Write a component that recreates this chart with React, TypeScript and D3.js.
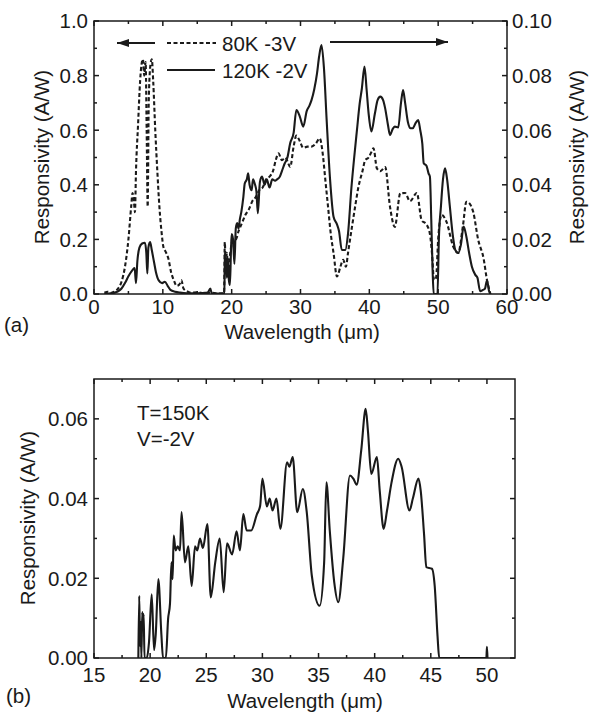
import * as d3 from 'd3';

const FONT = 'Arial, "Liberation Sans", Helvetica, sans-serif';

// (a) 80K -3V, left axis (A/W)
const resp80K: [number, number][] = [
  [1.5, 0.005], [2.0, 0.008], [2.5, 0.004], [3.0, 0.01], [3.5, 0.02], [4.0, 0.045], [4.5, 0.1], [5.0, 0.2],
  [5.4, 0.32], [5.6, 0.37], [5.8, 0.34], [5.95, 0.3], [6.1, 0.45], [6.4, 0.62], [6.7, 0.78], [6.9, 0.84],
  [7.1, 0.86], [7.3, 0.8], [7.5, 0.85], [7.65, 0.6], [7.8, 0.32], [7.95, 0.7], [8.2, 0.84], [8.4, 0.86],
  [8.6, 0.78], [8.9, 0.6], [9.2, 0.45], [9.5, 0.32], [9.8, 0.23], [10.1, 0.17], [10.4, 0.155], [10.8, 0.13],
  [11.2, 0.08], [11.6, 0.05], [12.0, 0.03], [12.4, 0.035], [12.7, 0.05], [13.0, 0.02], [13.5, 0.01], [14.0, 0.005],
  [15.0, 0.006], [16.0, 0.003], [17.0, 0.005], [18.0, 0.002], [18.9, 0.003], [19.0, 0.19], [19.15, 0.1], [19.3, 0.15],
  [19.5, 0.08], [19.7, 0.13], [19.9, 0.17], [20.2, 0.2], [20.6, 0.2], [21.0, 0.23], [21.5, 0.26], [22.0, 0.29],
  [22.5, 0.31], [23.0, 0.34], [23.5, 0.355], [24.0, 0.38], [24.5, 0.39], [25.0, 0.42], [25.5, 0.43], [26.0, 0.45],
  [26.4, 0.49], [26.8, 0.515], [27.3, 0.49], [27.8, 0.5], [28.2, 0.48], [28.5, 0.465], [29.0, 0.54], [29.4, 0.58],
  [29.9, 0.56], [30.4, 0.535], [31.0, 0.54], [31.6, 0.54], [32.2, 0.55], [32.8, 0.57], [33.2, 0.52], [33.6, 0.42],
  [34.0, 0.32], [34.4, 0.22], [34.8, 0.15], [35.3, 0.064], [35.8, 0.1], [36.2, 0.125], [36.6, 0.1], [36.9, 0.15],
  [37.5, 0.25], [38.0, 0.33], [38.4, 0.39], [39.0, 0.45], [39.4, 0.49], [39.9, 0.5], [40.3, 0.52], [40.6, 0.534],
  [41.1, 0.46], [41.6, 0.45], [42.3, 0.465], [43.0, 0.32], [43.7, 0.246], [44.5, 0.369], [45.2, 0.37], [45.9, 0.34],
  [46.9, 0.37], [47.6, 0.27], [48.3, 0.255], [48.8, 0.22], [49.1, 0.15], [49.4, 0.05], [49.7, 0.06], [50.0, 0.2],
  [50.5, 0.29], [51.2, 0.265], [52.2, 0.173], [52.9, 0.15], [53.6, 0.25], [54.1, 0.338], [54.6, 0.33], [55.1, 0.3],
  [55.8, 0.2], [56.6, 0.13], [57.1, 0.05], [57.6, 0.0],
];

// (a) 120K -2V, right axis (A/W)
const resp120K: [number, number][] = [
  [1.5, 0], [2.5, 0.0003], [3.0, 0.0005], [3.5, 0.001], [4.0, 0.002], [4.5, 0.004], [5.0, 0.0065], [5.5, 0.0085],
  [5.9, 0.0095], [6.1, 0.004], [6.3, 0.012], [6.6, 0.017], [7.0, 0.0185], [7.4, 0.0188], [7.6, 0.015], [7.75, 0.0075],
  [7.9, 0.017], [8.15, 0.019], [8.4, 0.016], [8.7, 0.012], [9.0, 0.008], [9.4, 0.005], [9.9, 0.004], [10.3, 0.0045],
  [10.7, 0.003], [11.1, 0.0015], [11.8, 0.0008], [12.5, 0.0005], [13.5, 0.0003], [15, 0.0003], [16.5, 0.0005], [16.9, 0.002],
  [17.1, 0.0003], [18.5, 0.0002], [18.95, 0.0003], [19.0, 0.0149], [19.1, 0.0076], [19.2, 0.012], [19.3, 0.006], [19.45, 0.013],
  [19.6, 0.005], [19.75, 0.0033], [19.9, 0.016], [20.0, 0.022], [20.2, 0.02], [20.4, 0.011], [20.6, 0.024], [20.8, 0.026],
  [21.0, 0.024], [21.2, 0.0275], [21.4, 0.03], [21.7, 0.0356], [21.9, 0.0405], [22.2, 0.042], [22.4, 0.0442], [22.6, 0.04],
  [22.9, 0.038], [23.1, 0.042], [23.4, 0.04], [23.6, 0.0375], [23.8, 0.0296], [24.1, 0.041], [24.4, 0.043], [24.8, 0.04],
  [25.1, 0.042], [25.5, 0.039], [25.9, 0.042], [26.3, 0.0415], [26.6, 0.042], [27.0, 0.043], [27.3, 0.045], [27.7, 0.0478],
  [28.1, 0.05], [28.5, 0.0552], [29.0, 0.059], [29.4, 0.0674], [29.9, 0.065], [30.4, 0.0613], [30.9, 0.067], [31.3, 0.069],
  [31.6, 0.071], [32.0, 0.075], [32.4, 0.0808], [32.7, 0.0869], [33.05, 0.0912], [33.4, 0.083], [33.8, 0.0637], [34.3, 0.0418],
  [34.8, 0.0283], [35.3, 0.0255], [35.6, 0.023], [36.0, 0.0161], [36.5, 0.0161], [36.9, 0.022], [37.4, 0.039], [37.8, 0.05],
  [38.2, 0.06], [38.6, 0.0698], [38.9, 0.075], [39.3, 0.0833], [39.6, 0.075], [39.9, 0.066], [40.3, 0.0595], [40.8, 0.066],
  [41.2, 0.071], [41.6, 0.0723], [42.0, 0.071], [42.3, 0.068], [42.7, 0.062], [43.0, 0.0582], [43.4, 0.0605], [43.7, 0.0613],
  [44.2, 0.061], [44.6, 0.07], [44.9, 0.0747], [45.2, 0.07], [45.6, 0.063], [46.0, 0.0607], [46.3, 0.0607], [46.7, 0.0625],
  [47.1, 0.0637], [47.4, 0.06], [47.7, 0.055], [47.9, 0.0479], [48.3, 0.047], [48.6, 0.0442], [48.8, 0.043], [49.0, 0.027],
  [49.2, 0.008], [49.35, 0], [49.9, 0], [50.1, 0.02], [50.4, 0.032], [50.7, 0.042], [51.0, 0.046], [51.3, 0.042],
  [51.7, 0.032], [52.1, 0.022], [52.5, 0.016], [52.9, 0.015], [53.3, 0.018], [53.7, 0.0247], [54.1, 0.021], [54.5, 0.015],
  [54.9, 0.01], [55.4, 0.007], [55.7, 0.006], [56.1, 0.001], [56.5, 0.0015], [56.8, 0.002], [57.1, 0.005], [57.4, 0.001],
  [57.6, 0],
];

// (b) T=150K V=-2V
const resp150K: [number, number][] = [
  [18.95, 0], [19.03, 0.0156], [19.1, 0.003], [19.17, 0.009], [19.22, 0], [19.3, 0.0115], [19.35, 0.008], [19.42, 0.011],
  [19.5, 0], [19.7, 0], [19.9, 0.004], [20.14, 0.016], [20.35, 0.002], [20.5, 0.006], [20.73, 0.0198], [21.0, 0.006],
  [21.15, 0], [21.4, 0], [21.6, 0.0098], [21.77, 0.0137], [21.9, 0.024], [22.0, 0.0198], [22.1, 0.0307], [22.27, 0.027],
  [22.45, 0.028], [22.66, 0.027], [22.8, 0.0366], [23.1, 0.024], [23.4, 0.028], [23.7, 0.0181], [24.0, 0.028], [24.2, 0.027],
  [24.44, 0.03], [24.7, 0.0276], [25.1, 0.0336], [25.4, 0.0152], [25.8, 0.024], [26.2, 0.03], [26.55, 0.0165], [26.85, 0.0288],
  [27.3, 0.026], [27.7, 0.0318], [28.0, 0.027], [28.3, 0.0361], [28.6, 0.032], [29.0, 0.032], [29.5, 0.036], [29.8, 0.0382],
  [30.0, 0.045], [30.4, 0.038], [30.65, 0.04], [30.9, 0.037], [31.25, 0.04], [31.6, 0.0324], [32.2, 0.0491], [32.4, 0.048],
  [32.7, 0.0504], [33.1, 0.0366], [33.6, 0.0424], [33.95, 0.0366], [34.4, 0.0207], [35.1, 0.0131], [35.5, 0.024], [35.7, 0.0441],
  [36.0, 0.032], [36.4, 0.019], [36.76, 0.014], [37.2, 0.025], [37.8, 0.0458], [38.1, 0.045], [38.4, 0.0435], [38.8, 0.052],
  [39.2, 0.0625], [39.4, 0.057], [39.7, 0.0462], [40.2, 0.0504], [40.45, 0.042], [40.8, 0.0324], [41.1, 0.037], [41.5, 0.044],
  [42.1, 0.05], [42.4, 0.048], [43.1, 0.037], [43.4, 0.04], [43.9, 0.045], [44.1, 0.042], [44.4, 0.031], [44.6, 0.0228],
  [45.1, 0.0224], [45.35, 0.018], [45.6, 0.0055], [45.75, 0], [49.95, 0], [50.0, 0.0028], [50.05, 0],
];

const xTicksA = d3.range(0, 61, 10);
const yTicksALeft = d3.range(0, 1.01, 0.2);
const yTicksARight = d3.range(0, 0.101, 0.02);
const xTicksB = d3.range(15, 51, 5);
const yTicksB = d3.range(0, 0.061, 0.02);

const INK = '#1a1a1a';
const FS = 20.5;

type Box = { l: number; r: number; t: number; b: number };

function Frame({ box, xs, ys, yr, xMaj, xMin, yMaj, yMin, yrMaj, yrMin, xFmt, yFmt, yrFmt, labelY }: any) {
  const maj = 5, mn = 3;
  return (
    <g stroke={INK} strokeWidth={1.5} fill="none">
      <rect x={box.l} y={box.t} width={box.r - box.l} height={box.b - box.t} />
      {xMaj.map((v: number) => (
        <g key={'xM' + v}>
          <line x1={xs(v)} x2={xs(v)} y1={box.b} y2={box.b - maj} />
          <line x1={xs(v)} x2={xs(v)} y1={box.t} y2={box.t + maj} />
          <text x={xs(v)} y={labelY} textAnchor="middle" stroke="none" fill={INK} fontSize={FS} fontFamily={FONT}>{xFmt(v)}</text>
        </g>
      ))}
      {xMin.map((v: number) => (
        <g key={'xm' + v}>
          <line x1={xs(v)} x2={xs(v)} y1={box.b} y2={box.b - mn} />
          <line x1={xs(v)} x2={xs(v)} y1={box.t} y2={box.t + mn} />
        </g>
      ))}
      {yMaj.map((v: number) => (
        <g key={'yM' + v}>
          <line x1={box.l} x2={box.l + maj} y1={ys(v)} y2={ys(v)} />
          {!yr && <line x1={box.r} x2={box.r - maj} y1={ys(v)} y2={ys(v)} />}
          <text x={box.l - 6} y={ys(v)} dy="0.36em" textAnchor="end" stroke="none" fill={INK} fontSize={FS} fontFamily={FONT}>{yFmt(v)}</text>
        </g>
      ))}
      {yMin.map((v: number) => (
        <g key={'ym' + v}>
          <line x1={box.l} x2={box.l + mn} y1={ys(v)} y2={ys(v)} />
          {!yr && <line x1={box.r} x2={box.r - mn} y1={ys(v)} y2={ys(v)} />}
        </g>
      ))}
      {yr && yrMaj.map((v: number) => (
        <g key={'rM' + v}>
          <line x1={box.r} x2={box.r - maj} y1={yr(v)} y2={yr(v)} />
          <text x={box.r + 5} y={yr(v)} dy="0.36em" textAnchor="start" stroke="none" fill={INK} fontSize={FS} fontFamily={FONT}>{yrFmt(v)}</text>
        </g>
      ))}
      {yr && yrMin.map((v: number) => (
        <line key={'rm' + v} x1={box.r} x2={box.r - mn} y1={yr(v)} y2={yr(v)} />
      ))}
    </g>
  );
}

export default function App() {
  const boxA: Box = { l: 94, r: 507, t: 21, b: 294 };
  const boxB: Box = { l: 94, r: 515, t: 379, b: 658 };

  const xa = d3.scaleLinear().domain([0, 60]).range([boxA.l, boxA.r]);
  const yaL = d3.scaleLinear().domain([0, 1]).range([boxA.b, boxA.t]);
  const yaR = d3.scaleLinear().domain([0, 0.1]).range([boxA.b, boxA.t]);
  const xb = d3.scaleLinear().domain([15, 52.5]).range([boxB.l, boxB.r]);
  const yb = d3.scaleLinear().domain([0, 0.07]).range([boxB.b, boxB.t]);

  const lineL = d3.line<[number, number]>().x(d => xa(d[0])).y(d => yaL(d[1])).curve(d3.curveMonotoneX);
  const lineR = d3.line<[number, number]>().x(d => xa(d[0])).y(d => yaR(d[1])).curve(d3.curveMonotoneX);
  const lineB = d3.line<[number, number]>().x(d => xb(d[0])).y(d => yb(d[1])).curve(d3.curveMonotoneX);

  const f1 = d3.format('.1f');
  const f2 = d3.format('.2f');
  const fi = d3.format('d');

  const txt = { fill: INK, fontFamily: FONT, fontSize: FS } as const;

  return (
    <svg width={589} height={712} style={{ position: 'absolute', left: 0, top: 0, background: '#fff' }}>
      <defs>
        <marker id="ah" viewBox="0 0 12 8" refX="12" refY="4" markerWidth="12" markerHeight="8" markerUnits="userSpaceOnUse" orient="auto">
          <path d="M0,0 L12,4 L0,8 Z" fill={INK} />
        </marker>
        <clipPath id="clipA"><rect x={boxA.l} y={boxA.t} width={boxA.r - boxA.l} height={boxA.b - boxA.t} /></clipPath>
        <clipPath id="clipB"><rect x={boxB.l} y={boxB.t} width={boxB.r - boxB.l} height={boxB.b - boxB.t} /></clipPath>
      </defs>

      {/* panel (a) */}
      <g clipPath="url(#clipA)" fill="none" stroke={INK} strokeWidth={2.1} strokeLinejoin="round">
        <path d={lineL(resp80K) ?? ''} strokeDasharray="4,2.5" />
        <path d={lineR(resp120K) ?? ''} />
      </g>
      <Frame box={boxA} xs={xa} ys={yaL} yr={yaR}
        xMaj={xTicksA} xMin={d3.range(5, 60, 10)}
        yMaj={yTicksALeft} yMin={d3.range(0.1, 1, 0.2)}
        yrMaj={yTicksARight} yrMin={d3.range(0.01, 0.1, 0.02)}
        xFmt={fi} yFmt={f1} yrFmt={f2} labelY={314} />

      {/* legend and axis arrows */}
      <line x1={155} x2={117} y1={43} y2={43} stroke={INK} strokeWidth={1.9} markerEnd="url(#ah)" />
      <line x1={330} x2={448} y1={42} y2={42} stroke={INK} strokeWidth={1.9} markerEnd="url(#ah)" />
      <line x1={167} x2={216} y1={43} y2={43} stroke={INK} strokeWidth={2.1} strokeDasharray="4,2.5" />
      <text x={222} y={51} {...txt}>80K -3V</text>
      <line x1={167} x2={215} y1={70} y2={70} stroke={INK} strokeWidth={2.1} />
      <text x={222} y={78} {...txt}>120K -2V</text>

      <text transform="translate(49,157) rotate(-90)" textAnchor="middle" {...txt}>Responsivity (A/W)</text>
      <text transform="translate(584,157) rotate(-90)" textAnchor="middle" {...txt}>Responsivity (A/W)</text>
      <text x={302} y={339} textAnchor="middle" {...txt}>Wavelength (μm)</text>
      <text x={4} y={332} {...txt}>(a)</text>

      {/* panel (b) */}
      <g clipPath="url(#clipB)" fill="none" stroke={INK} strokeWidth={2.1} strokeLinejoin="round">
        <path d={lineB(resp150K) ?? ''} />
      </g>
      <Frame box={boxB} xs={xb} ys={yb}
        xMaj={xTicksB} xMin={d3.range(17.5, 52.5, 5)}
        yMaj={yTicksB} yMin={d3.range(0.01, 0.07, 0.02)}
        xFmt={fi} yFmt={f2} labelY={682} />

      <text x={137} y={420} {...txt}>T=150K</text>
      <text x={137} y={446} {...txt}>V=-2V</text>
      <text transform="translate(35,518) rotate(-90)" textAnchor="middle" {...txt}>Responsivity (A/W)</text>
      <text x={305} y={708} textAnchor="middle" {...txt}>Wavelength (μm)</text>
      <text x={6} y={703} {...txt}>(b)</text>
    </svg>
  );
}
